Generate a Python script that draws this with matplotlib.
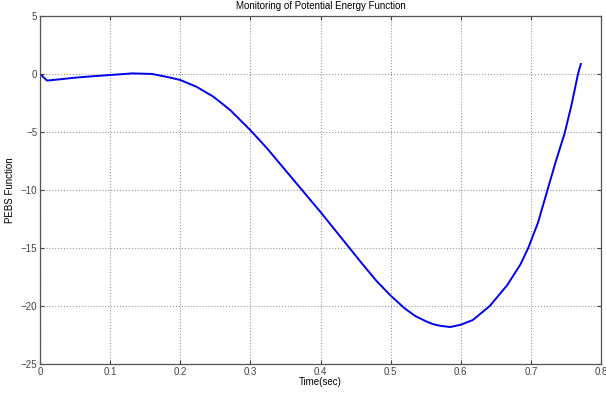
import matplotlib
matplotlib.use("Agg")
import matplotlib.pyplot as plt

plt.rcParams['font.family'] = ['Liberation Sans', 'DejaVu Sans']

# time samples (sec) and PEBS function values
t = [0.0, 0.01, 0.03, 0.05, 0.075, 0.1, 0.132, 0.16, 0.186, 0.2, 0.223, 0.247,
     0.271, 0.3, 0.313, 0.325, 0.35, 0.375, 0.4, 0.42, 0.44, 0.46, 0.48, 0.5,
     0.52, 0.535, 0.55, 0.56, 0.571, 0.585, 0.6, 0.617, 0.641, 0.666, 0.685,
     0.696, 0.71, 0.723, 0.735, 0.748, 0.758, 0.767, 0.771]
pebs = [0.0, -0.57, -0.45, -0.32, -0.2, -0.09, 0.05, 0.0, -0.32, -0.52, -1.1, -1.95,
        -3.1, -4.85, -5.7, -6.5, -8.3, -10.1, -11.9, -13.4, -14.9, -16.4, -17.85, -19.1,
        -20.2, -20.85, -21.3, -21.55, -21.7, -21.8, -21.6, -21.2, -20.0, -18.2, -16.4,
        -15.0, -12.8, -10.1, -7.6, -5.1, -2.6, 0.0, 0.86]

xticks = [0, 0.1, 0.2, 0.3, 0.4, 0.5, 0.6, 0.7, 0.8]
xlabels = ['0', '0.1', '0.2', '0.3', '0.4', '0.5', '0.6', '0.7', '0.8']
yticks = [-25, -20, -15, -10, -5, 0, 5]

fig = plt.figure(figsize=(6.06, 3.98), dpi=100)
ax = fig.add_axes([0.066, 0.085, 0.926, 0.875])
ax.plot(t, pebs, color='#0000ee', linewidth=1.4)
ax.set_xlim(0, 0.8)
ax.set_ylim(-25, 5)
ax.set_xticks(xticks)
ax.set_yticks(yticks)
ax.set_xticklabels(xlabels)
ax.grid(True, linestyle=':', color='#999999', linewidth=0.8)
ax.tick_params(direction='in', length=3, labelsize=7, colors='#444444',
               top=True, right=True, pad=2)
for s in ax.spines.values():
    s.set_color('#555555')
    s.set_linewidth(0.9)
ax.set_xlabel('Time(sec)', fontsize=7, labelpad=0)
ax.set_ylabel('PEBS Function', fontsize=7, labelpad=4)
ax.set_title('Monitoring of Potential Energy Function', fontsize=7, pad=5)
fig.savefig('out.png', dpi=100)
